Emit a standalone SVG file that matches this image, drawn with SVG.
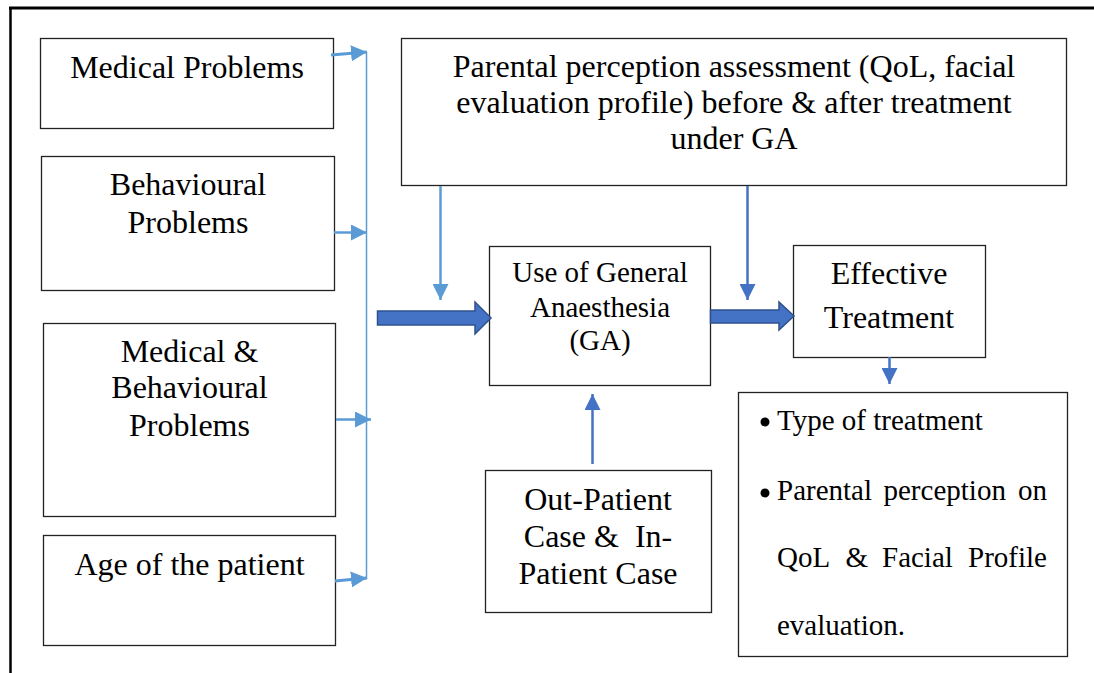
<svg xmlns="http://www.w3.org/2000/svg" width="1094" height="673" viewBox="0 0 1094 673">
<style>
.box{fill:#fff;stroke:#222;stroke-width:1.3}
.t{font-family:"Liberation Serif","Times New Roman",serif;fill:#000;text-anchor:middle}
.s32{font-size:32px}
.s29{font-size:29px}
.tl{font-family:"Liberation Serif","Times New Roman",serif;fill:#000;font-size:29px}
.lb{stroke:#5B9BD5;fill:none}
.db{stroke:#4472C4;fill:none;stroke-width:2.5}
.block{fill:#4472C4;stroke:#2F528F;stroke-width:1.5}
</style>
<defs>
<marker id="hl" markerUnits="userSpaceOnUse" markerWidth="16" markerHeight="16" refX="16" refY="8" orient="auto">
<path d="M0,0 L16,8 L0,16 z" fill="#5B9BD5"/>
</marker>
<marker id="hd" markerUnits="userSpaceOnUse" markerWidth="16" markerHeight="16" refX="16" refY="8" orient="auto">
<path d="M0,0 L16,8 L0,16 z" fill="#4472C4"/>
</marker>
</defs>
<rect width="1094" height="673" fill="#fff"/>
<g id="frame">
<line x1="9" y1="8" x2="1094" y2="8" stroke="#000" stroke-width="3"/>
<line x1="10.5" y1="7" x2="10.5" y2="673" stroke="#000" stroke-width="2.5"/>
</g>
<g id="medical">
<rect class="box" x="40.5" y="38.5" width="293" height="90"/>
<text class="t s32" x="187" y="78">Medical Problems</text>
</g>
<g id="behavioural">
<rect class="box" x="41.5" y="156.5" width="293" height="134"/>
<text class="t s32" x="188" y="195">Behavioural</text>
<text class="t s32" x="188" y="233">Problems</text>
</g>
<g id="medbeh">
<rect class="box" x="43.5" y="323.5" width="292" height="193"/>
<text class="t s32" x="189.5" y="362">Medical &amp;</text>
<text class="t s32" x="189.5" y="398">Behavioural</text>
<text class="t s32" x="189.5" y="436">Problems</text>
</g>
<g id="age">
<rect class="box" x="43.5" y="535.5" width="292" height="110"/>
<text class="t s32" x="189.5" y="575">Age of the patient</text>
</g>
<g id="parental">
<rect class="box" x="401.5" y="38.5" width="665" height="147"/>
<text class="t s32" x="734" y="77">Parental perception assessment (QoL, facial</text>
<text class="t s32" x="734" y="113">evaluation profile) before &amp; after treatment</text>
<text class="t s32" x="734" y="149">under GA</text>
</g>
<g id="ga">
<rect class="box" x="489.5" y="246.5" width="221" height="139"/>
<text class="t s29" x="600" y="282">Use of General</text>
<text class="t s29" x="600" y="317">Anaesthesia</text>
<text class="t s29" x="600" y="350">(GA)</text>
</g>
<g id="effective">
<rect class="box" x="793.5" y="245.5" width="192" height="112"/>
<text class="t s32" x="889" y="284">Effective</text>
<text class="t s32" x="889" y="328">Treatment</text>
</g>
<g id="outpatient">
<rect class="box" x="485.5" y="470.5" width="226" height="142"/>
<text class="t s32" x="598" y="510">Out-Patient</text>
<text class="t s32" x="598" y="547" style="white-space:pre">Case &amp;  In-</text>
<text class="t s32" x="598" y="584">Patient Case</text>
</g>
<g id="outcomes">
<rect class="box" x="738.5" y="392.5" width="329" height="264"/>
<circle cx="765" cy="422" r="4.5" fill="#000"/>
<circle cx="765" cy="493" r="4.5" fill="#000"/>
<text class="tl" x="777" y="430">Type of treatment</text>
<text class="tl" y="500"><tspan x="777">Parental</tspan><tspan x="883.5">perception</tspan><tspan x="1018">on</tspan></text>
<text class="tl" y="567"><tspan x="777">QoL</tspan><tspan x="845.5">&amp;</tspan><tspan x="882">Facial</tspan><tspan x="968">Profile</tspan></text>
<text class="tl" x="777" y="635">evaluation.</text>
</g>
<g id="connectors">
<line class="lb" x1="366.5" y1="52" x2="366.5" y2="579" stroke-width="1.5"/>
<path class="lb" d="M331,55 L367,52" stroke-width="3" marker-end="url(#hl)"/>
<path class="lb" d="M334,232.5 L367,232.5" stroke-width="2.5" marker-end="url(#hl)"/>
<path class="lb" d="M336,419.5 L371,419.5" stroke-width="2.5" marker-end="url(#hl)"/>
<path class="lb" d="M335,581 L367,578" stroke-width="3" marker-end="url(#hl)"/>
<path class="lb" d="M440.5,186 L440.5,300" stroke-width="2.5" marker-end="url(#hl)"/>
<path class="db" d="M747.5,186 L747.5,300" marker-end="url(#hd)"/>
<path class="db" d="M592.5,464 L592.5,394" marker-end="url(#hd)"/>
<path class="db" d="M889.5,357 L889.5,384" marker-end="url(#hd)"/>
<polygon class="block" points="377.5,311 475,311 475,302 491,318 475,334 475,325 377.5,325"/>
<polygon class="block" points="710.5,310 779,310 779,302 794,316 779,330 779,323 710.5,323"/>
</g>
</svg>
